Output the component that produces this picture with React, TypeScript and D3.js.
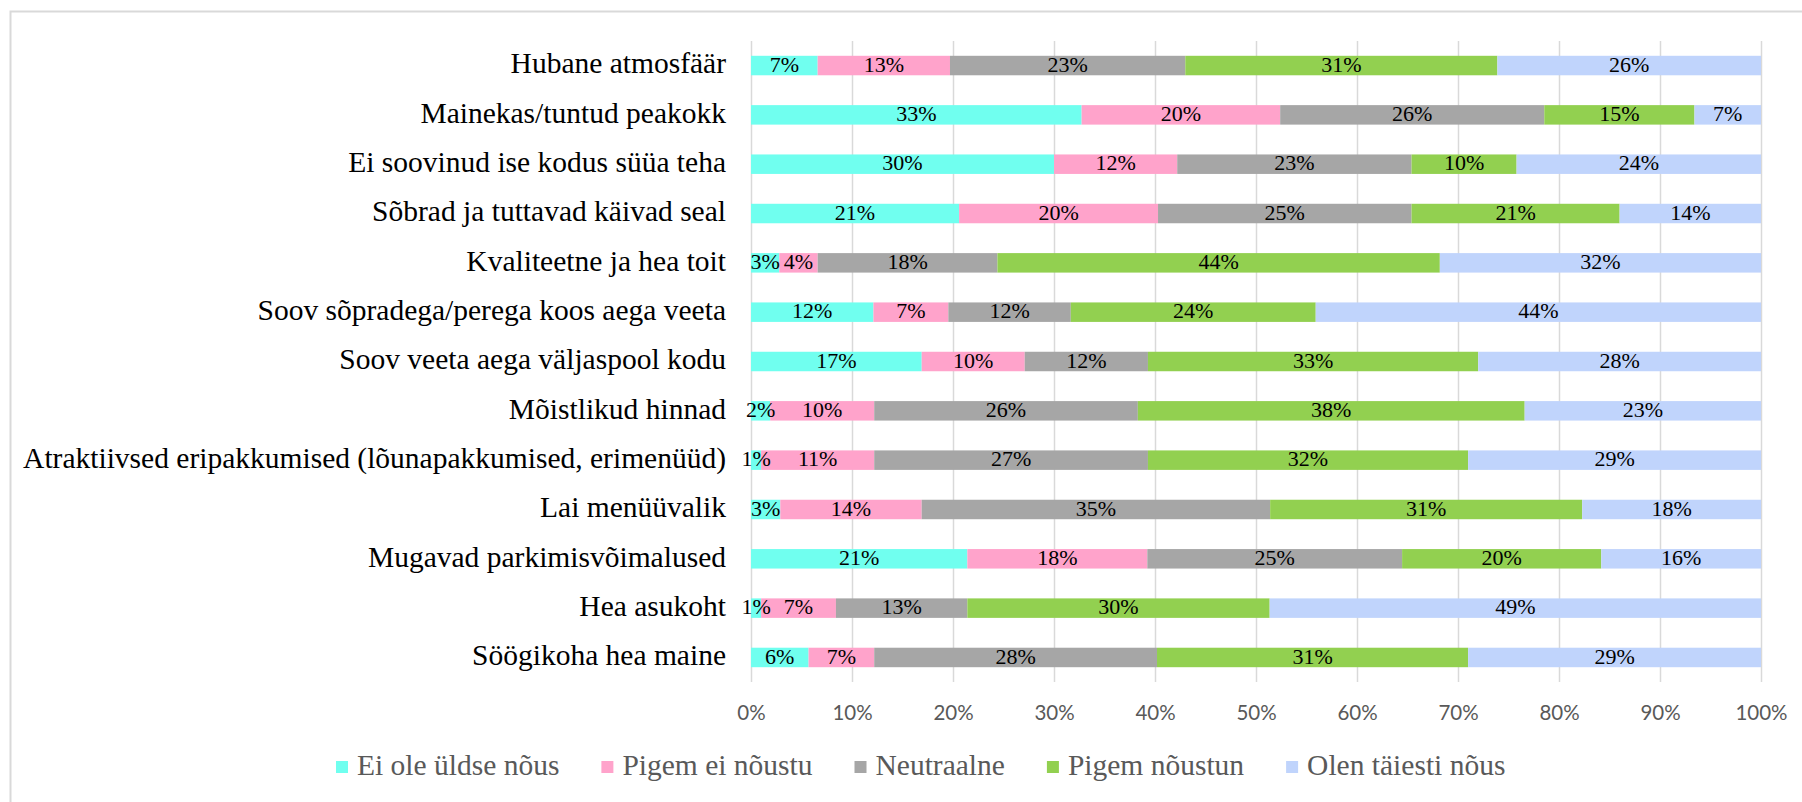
import React, { useEffect, useRef } from 'react';
import * as d3 from 'd3';

const categories = [
  'Hubane atmosfäär',
  'Mainekas/tuntud peakokk',
  'Ei soovinud ise kodus süüa teha',
  'Sõbrad ja tuttavad käivad seal',
  'Kvaliteetne ja hea toit',
  'Soov sõpradega/perega koos aega veeta',
  'Soov veeta aega väljaspool kodu',
  'Mõistlikud hinnad',
  'Atraktiivsed eripakkumised (lõunapakkumised, erimenüüd)',
  'Lai menüüvalik',
  'Mugavad parkimisvõimalused',
  'Hea asukoht',
  'Söögikoha hea maine',
];

const seriesNames = ['Ei ole üldse nõus', 'Pigem ei nõustu', 'Neutraalne', 'Pigem nõustun', 'Olen täiesti nõus'];
const seriesColors = ['#70FFEF', '#FFA3CB', '#A6A6A6', '#92D050', '#C0D4FC'];

// one array per series, same order as categories
const eiOleUldseNous = [6.6, 32.8, 30.0, 20.6, 2.8, 12.1, 16.9, 1.9, 1.0, 2.9, 21.4, 1.0, 5.7];
const pigemEiNoustu = [13.1, 19.7, 12.2, 19.7, 3.8, 7.4, 10.2, 10.3, 11.2, 14.0, 17.8, 7.4, 6.5];
const neutraalne = [23.3, 26.2, 23.2, 25.1, 17.8, 12.1, 12.2, 26.1, 27.1, 34.5, 25.2, 13.0, 28.0];
const pigemNoustun = [30.9, 14.9, 10.4, 20.6, 43.8, 24.2, 32.7, 38.3, 31.7, 30.9, 19.7, 29.9, 30.8];
const olenTaiestiNous = [26.1, 6.6, 24.2, 14.0, 31.8, 44.0, 28.0, 23.4, 29.0, 17.7, 15.8, 48.6, 29.0];

const ticks = [0, 0.1, 0.2, 0.3, 0.4, 0.5, 0.6, 0.7, 0.8, 0.9, 1];

const W = 1802;
const H = 802;
const serif = '"Liberation Serif", "Times New Roman", serif';

export default function App() {
  const ref = useRef<SVGSVGElement>(null);

  useEffect(() => {
    const svg = d3.select(ref.current);
    svg.selectAll('*').remove();

    const series = [eiOleUldseNous, pigemEiNoustu, neutraalne, pigemNoustun, olenTaiestiNous];
    const rows = categories.map((c, i) => {
      const row: any = { cat: c };
      const total = d3.sum(series, s => s[i]);
      seriesNames.forEach((n, j) => { row[n] = series[j][i] / total; });
      return row;
    });
    const stacked = d3.stack().keys(seriesNames)(rows);

    const x = d3.scaleLinear().domain([0, 1]).range([751, 1761]);
    const y = d3.scaleBand().domain(categories).range([41, 682]).paddingInner(0.605).paddingOuter(0.3);

    // outer frame (runs off the page on right/bottom)
    svg.append('rect')
      .attr('x', 10.5).attr('y', 11.5).attr('width', 2000).attr('height', 1000)
      .attr('fill', 'none').attr('stroke', '#d9d9d9').attr('stroke-width', 2);

    // gridlines
    svg.append('g').selectAll('line').data(ticks).enter().append('line')
      .attr('x1', d => Math.round(x(d)) + 0.5).attr('x2', d => Math.round(x(d)) + 0.5)
      .attr('y1', 41).attr('y2', 682)
      .attr('stroke', '#d9d9d9').attr('stroke-width', 1.5);

    // bars
    const layers = svg.append('g').selectAll('g').data(stacked).enter().append('g')
      .attr('fill', (d, i) => seriesColors[i]);
    layers.selectAll('rect').data(d => d).enter().append('rect')
      .attr('x', d => x(d[0]))
      .attr('width', d => x(d[1]) - x(d[0]))
      .attr('y', d => y((d.data as any).cat)!)
      .attr('height', y.bandwidth());

    // value labels (drawn after all bars so small ones are not covered)
    const labels = svg.append('g').selectAll('g').data(stacked).enter().append('g');
    labels.selectAll('text').data(d => d).enter().append('text')
      .attr('x', d => (x(d[0]) + x(d[1])) / 2)
      .attr('y', d => y((d.data as any).cat)! + y.bandwidth() / 2 + 1)
      .attr('text-anchor', 'middle')
      .attr('dominant-baseline', 'middle')
      .attr('font-family', serif)
      .attr('font-size', 22)
      .attr('fill', '#000')
      .text(d => d3.format('.0%')(d[1] - d[0]));

    // category labels
    svg.append('g').selectAll('text').data(categories).enter().append('text')
      .attr('x', 726)
      .attr('y', d => y(d)! + y.bandwidth() / 2 + 1)
      .attr('text-anchor', 'end')
      .attr('dominant-baseline', 'middle')
      .attr('font-family', serif)
      .attr('font-size', 29.5)
      .attr('fill', '#000')
      .text(d => d);

    // x axis tick labels
    const axis = svg.append('g').attr('transform', 'translate(0,713)')
      .call(d3.axisBottom(x).tickValues(ticks).tickFormat(d3.format('.0%')).tickSize(0).tickPadding(0));
    axis.select('.domain').remove();
    axis.selectAll('text')
      .attr('dy', '0.35em')
      .attr('font-family', 'Lato, "Open Sans", sans-serif')
      .attr('font-size', 20.5)
      .attr('fill', '#595959');

    // legend
    const legend = svg.append('g').attr('transform', 'translate(0,767)');
    let lx = 336;
    seriesNames.forEach((n, i) => {
      legend.append('rect').attr('x', lx).attr('y', -6).attr('width', 12).attr('height', 12).attr('fill', seriesColors[i]);
      const t = legend.append('text')
        .attr('x', lx + 21).attr('y', 1)
        .attr('dominant-baseline', 'middle')
        .attr('font-family', serif)
        .attr('font-size', 29.5)
        .attr('fill', '#595959')
        .text(n);
      const w = (t.node() as SVGTextElement).getComputedTextLength();
      lx += 21 + w + 42;
    });
  }, []);

  return (
    <div style={{ position: 'fixed', left: 0, top: 0, width: W, height: H, background: '#fff' }}>
      <svg ref={ref} width={W} height={H} style={{ display: 'block' }} />
    </div>
  );
}
